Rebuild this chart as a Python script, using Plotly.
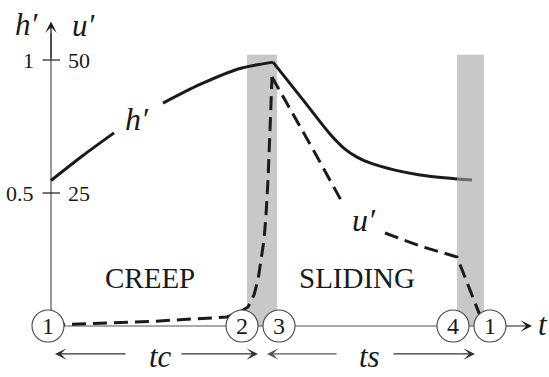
import plotly.graph_objects as go

# ---- data -------------------------------------------------------------
# time in arbitrary units; h' is dimensionless, u' shares the axis at u' = 50 h'
band_spans = [(19.6, 22.6), (40.6, 43.3)]      # transition (grey) windows
band_top = 1.02

event_t = [-0.3, 19.1, 22.8, 40.2, 43.9]        # state markers along t
event_labels = ["1", "2", "3", "4", "1"]

h_tick_vals = [1.0, 0.5]
h_tick_text = ["1", "0.5"]
u_tick_text = ["50", "25"]

# h' during creep (gap leaves room for its label)
h_creep_t = [0.0, 3.2, 6.3, None, 11.2, 14.9, 18.9, 22.2]
h_creep = [0.547, 0.641, 0.726, None, 0.838, 0.908, 0.968, 0.992]

# h' during sliding
h_slide_t = [22.2, 25.2, 27.9, 29.4, 30.6, 31.9, 34.4, 36.9, 40.6]
h_slide = [0.992, 0.850, 0.722, 0.665, 0.635, 0.613, 0.586, 0.568, 0.553]
h_tail_t = [40.6, 42.1]
h_tail = [0.553, 0.549]

# u' during creep and the jump at onset of sliding
u_creep_t = [0.0, 9.9, 17.6, 18.7, 19.7, 20.3, 20.7, 21.0, 21.3, 21.5, 21.7, 21.9, 22.1]
u_creep = [0.19, 0.85, 1.69, 2.44, 3.57, 5.83, 8.65, 12.03, 16.17, 20.86, 27.44, 36.84, 46.80]

# u' during sliding (gap leaves room for its label)
u_slide_t = [22.1, 24.4, 26.4, 29.1, None, 33.4, 36.9, 40.6, 42.6, 43.0]
u_slide = [46.80, 39.29, 32.52, 23.31, None, 17.48, 15.04, 12.97, 3.38, 1.50]

# ---- figure -----------------------------------------------------------
W, H = 549, 377
X_RANGE = [-5.1, 49.8]
Y_RANGE = [-51 / 266, 326 / 266]
U_SCALE = 50.0
SERIF = "Liberation Serif"
INK = "#1a1a1a"

fig = go.Figure()

fig.add_trace(go.Scatter(x=h_creep_t, y=h_creep, mode="lines",
                         line=dict(color=INK, width=3, shape="spline", smoothing=0.8),
                         connectgaps=False, hoverinfo="skip"))
fig.add_trace(go.Scatter(x=h_slide_t, y=h_slide, mode="lines",
                         line=dict(color=INK, width=3, shape="spline", smoothing=0.8),
                         hoverinfo="skip"))
fig.add_trace(go.Scatter(x=h_tail_t, y=h_tail, mode="lines",
                         line=dict(color="#6a6a6a", width=3), hoverinfo="skip"))
fig.add_trace(go.Scatter(x=u_creep_t, y=u_creep, yaxis="y2", mode="lines",
                         line=dict(color=INK, width=3, dash="14px,7px"),
                         hoverinfo="skip"))
fig.add_trace(go.Scatter(x=u_slide_t, y=u_slide, yaxis="y2", mode="lines",
                         line=dict(color=INK, width=3, dash="14px,7px"),
                         connectgaps=False, hoverinfo="skip"))

shapes = []
for x0, x1 in band_spans:
    shapes.append(dict(type="rect", xref="x", yref="y", x0=x0, x1=x1, y0=0, y1=band_top,
                       fillcolor="#c8c8c8", line=dict(width=0), layer="below"))

AXIS_C = "#555555"
# vertical h'/u' axis and horizontal t axis
shapes.append(dict(type="line", xref="x", yref="y", x0=0, x1=0, y0=0, y1=1.10,
                   line=dict(color=AXIS_C, width=1.2), layer="below"))
shapes.append(dict(type="line", xref="x", yref="y", x0=0, x1=45.5, y0=0, y1=0,
                   line=dict(color=AXIS_C, width=1.2), layer="below"))
# tick marks crossing the vertical axis
for v in h_tick_vals:
    shapes.append(dict(type="line", xref="x", yref="y", x0=-0.85, x1=0.9, y0=v, y1=v,
                       line=dict(color=INK, width=1.2), layer="below"))

# state markers
rx, ry = 1.6, 16 / 266
for t in event_t:
    shapes.append(dict(type="circle", xref="x", yref="y", x0=t - rx, x1=t + rx,
                       y0=-ry, y1=ry, fillcolor="white",
                       line=dict(color="#444444", width=1.1), layer="above"))

ann = []


def text(x, y, s, size, xanchor="center", italic=False, yref="y"):
    ann.append(dict(x=x, y=y, xref="x", yref=yref, text=(f"<i>{s}</i>" if italic else s),
                    showarrow=False, xanchor=xanchor, yanchor="middle",
                    font=dict(family=SERIF, size=size, color=INK)))


def arrow(x_head, y, x_tail, y_tail=None, color="#333333"):
    ann.append(dict(x=x_head, y=y, ax=x_tail, ay=(y if y_tail is None else y_tail),
                    xref="x", yref="y", axref="x", ayref="y", text="",
                    showarrow=True, arrowhead=3, arrowsize=1.6, arrowwidth=1.2,
                    arrowcolor=color))


# tick labels on both sides of the axis
for v, lh, lu in zip(h_tick_vals, h_tick_text, u_tick_text):
    text(-1.5, v, lh, 22, xanchor="right")
    text(1.5, v, lu, 22, xanchor="left")

# axis titles and arrows
text(-2.4, 1.135, "h′", 31, italic=True)
text(3.3, 1.13, "u′", 31, italic=True)
arrow(0, 1.145, 0, 1.0, color=INK)
arrow(48.1, 0, 45.4, color=INK)
text(49.2, 0.005, "t", 31, italic=True)

# curve labels and phase names
text(8.6, 0.78, "h′", 32, italic=True)
text(31.3, 0.40, "u′", 32, italic=True)
text(9.9, 0.18, "CREEP", 29)
text(30.6, 0.18, "SLIDING", 29)

# marker numerals
for t, lab in zip(event_t, event_labels):
    text(t, 0.0, lab, 24)

# durations of the two phases
y_dur = -0.105
arrow(0.4, y_dur, 7.6)
arrow(20.7, y_dur, 12.9)
arrow(21.6, y_dur, 28.7, color="#555555")
arrow(42.4, y_dur, 34.1)
text(10.9, -0.115, "tc", 31, italic=True)
text(31.8, -0.115, "ts", 31, italic=True)

fig.update_layout(
    width=W, height=H,
    margin=dict(l=0, r=0, t=0, b=0),
    paper_bgcolor="white", plot_bgcolor="white",
    showlegend=False,
    xaxis=dict(range=X_RANGE, visible=False, fixedrange=True),
    yaxis=dict(range=Y_RANGE, visible=False, fixedrange=True),
    yaxis2=dict(range=[Y_RANGE[0] * U_SCALE, Y_RANGE[1] * U_SCALE], overlaying="y",
                visible=False, fixedrange=True),
    shapes=shapes,
    annotations=ann,
)

fig.write_html("out.html", config={"displayModeBar": False})
